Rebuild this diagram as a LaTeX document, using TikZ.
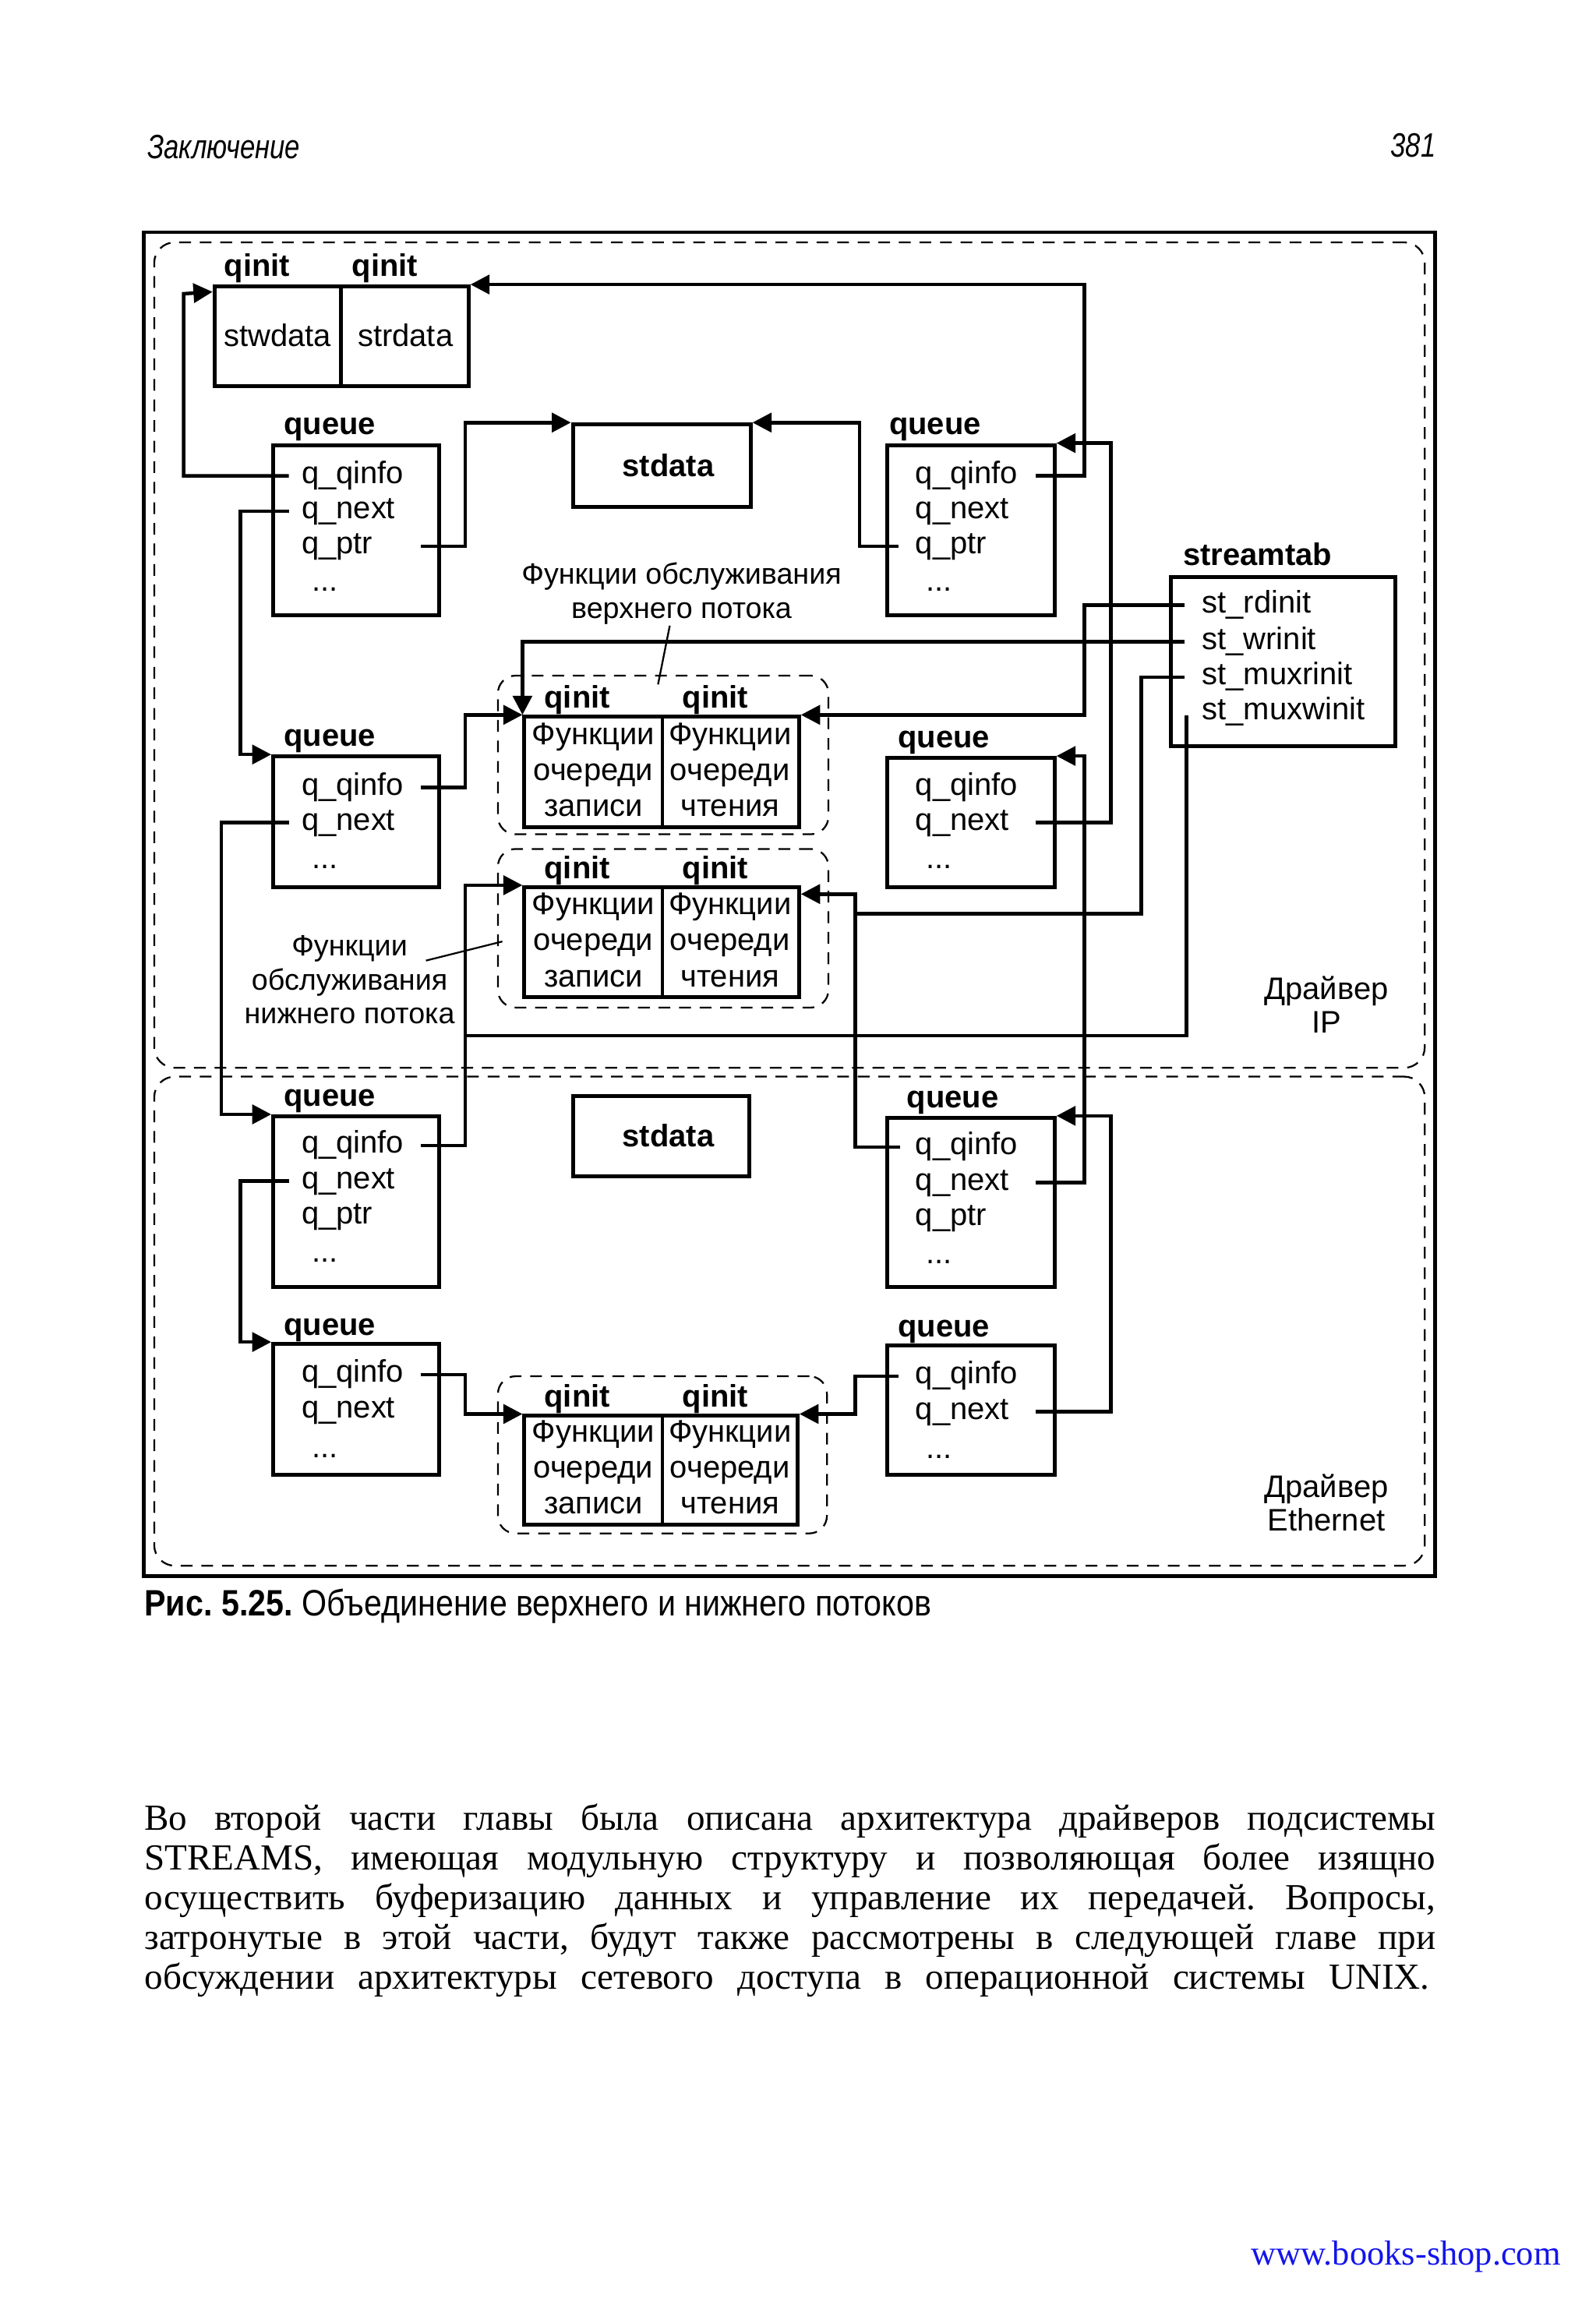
\documentclass[tikz,border=0pt]{standalone}
\usepackage{fontspec}
\setmainfont{Liberation Serif}
\newfontfamily\dsf{Liberation Sans}
\newfontfamily\nsf[FakeStretch=0.8]{Liberation Sans}
\newfontfamily\capf[FakeStretch=0.875]{Liberation Sans}
\usetikzlibrary{arrows.meta,fit,calc}
\definecolor{linkblue}{RGB}{20,20,235}
\frenchspacing
\tikzset{
  box/.style={draw, line width=1.3pt, inner sep=0pt},
  boxl/.style={line width=1.3pt},
  grp/.style={draw, line width=0.6pt, dash pattern=on 4pt off 3pt, rounded corners=6pt, inner sep=0pt},
  region/.style={draw, line width=0.6pt, dash pattern=on 4pt off 3pt, rounded corners=7pt, inner sep=0pt},
  outerframe/.style={draw, line width=1.2pt, inner sep=0pt},
  fld/.style={font=\dsf\fontsize{10.6pt}{12pt}\selectfont, inner sep=0pt, anchor=west, text height=7.6pt, text depth=2.4pt},
  txt/.style={font=\dsf\fontsize{10.6pt}{12pt}\selectfont, inner sep=0pt},
  cell/.style={font=\dsf\fontsize{10.6pt}{12.25pt}\selectfont, inner sep=0pt, align=center},
  note/.style={font=\dsf\fontsize{10pt}{11.5pt}\selectfont, inner sep=0pt, align=center},
  lbl/.style={font=\dsf\bfseries\fontsize{10.6pt}{12pt}\selectfont, inner sep=0pt},
  conn/.style={line width=1.2pt},
  arr/.style={line width=1.2pt, -{Triangle[length=6.5pt,width=6.5pt]}},
  leader/.style={line width=0.6pt},
  body/.style={font=\fontsize{12.5pt}{13.5pt}\selectfont, inner sep=0pt, anchor=base west},
}
\newcommand\fieldnode[4]{\node[fld] (#1) at (#2,#3) {#4};}
\begin{document}
\begin{tikzpicture}[x=0.5pt,y=-0.5pt]
\useasboundingbox (0,0) rectangle (1086.6,1567.3);
\fill[white] (0,0) rectangle (1086.6,1567.3);

% header
\node[anchor=base west, inner sep=0pt, font=\nsf\itshape\fontsize{11.5pt}{13pt}\selectfont] (hdrL) at (100,108) {Заключение};
\node[anchor=base east, inner sep=0pt, font=\nsf\itshape\fontsize{11.5pt}{13pt}\selectfont] (hdrR) at (978,107) {381};

% frame and regions
\node[outerframe, fit={(98,158)(977,1073)}] (frm) {};
\node[region, fit={(105,165)(970,727)}] (ipreg) {};
\node[region, fit={(105,733)(970,1066)}] (ethreg) {};

% ---------- top qinit pair
\node[box, fit={(146,195)(319,263)}] (qi) {};
\draw[boxl] (232,195) -- (232,263);
\node[lbl, anchor=base] (qiL1) at (175,188) {qinit};
\node[lbl, anchor=base] (qiL2) at (262,188) {qinit};
\node[txt] (stw) at (189,228) {stwdata};
\node[txt] (strd) at (276,228) {strdata};

% ---------- queue 1
\node[lbl, anchor=base west] (q1L) at (193,296) {queue};
\node[box, fit={(186,303)(299,419)}] (q1) {};
\fieldnode{q1a}{205}{324}{q\_qinfo}
\fieldnode{q1b}{205}{348}{q\_next}
\fieldnode{q1c}{205}{372}{q\_ptr}
\fieldnode{q1d}{212}{397}{...}

% ---------- stdata 1
\node[box, fit={(390,289)(511,345)}] (sd1) {};
\node[lbl] (sd1t) at (455,317) {stdata};

% ---------- queue 2
\node[lbl, anchor=base west] (q2L) at (605,296) {queue};
\node[box, fit={(604,303)(718,419)}] (q2) {};
\fieldnode{q2a}{623}{324}{q\_qinfo}
\fieldnode{q2b}{623}{348}{q\_next}
\fieldnode{q2c}{623}{372}{q\_ptr}
\fieldnode{q2d}{630}{397}{...}

% ---------- streamtab
\node[lbl, anchor=base west] (stL) at (805,385) {streamtab};
\node[box, fit={(797,393)(950,508)}] (st) {};
\fieldnode{st1}{818}{412}{st\_rdinit}
\fieldnode{st2}{818}{437}{st\_wrinit}
\fieldnode{st3}{818}{461}{st\_muxrinit}
\fieldnode{st4}{818}{485}{st\_muxwinit}

% ---------- upper note
\node[note] (unote) at (464,404) {Функции обслуживания\\верхнего потока};
\draw[leader] (456,426) -- (448,466);

% ---------- upper IP qinit group
\node[grp, fit={(339,460)(564,568)}] (ugd) {};
\node[box, fit={(357,488)(544,563)}] (ug) {};
\draw[boxl] (451,488) -- (451,563);
\node[lbl, anchor=base] (ugL1) at (393,482) {qinit};
\node[lbl, anchor=base] (ugL2) at (487,482) {qinit};
\node[cell] (ugw) at (404,524) {Функции\\очереди\\записи};
\node[cell] (ugr) at (497,524) {Функции\\очереди\\чтения};

% ---------- queue 3
\node[lbl, anchor=base west] (q3L) at (193,508) {queue};
\node[box, fit={(186,515)(299,604)}] (q3) {};
\fieldnode{q3a}{205}{536}{q\_qinfo}
\fieldnode{q3b}{205}{560}{q\_next}
\fieldnode{q3d}{212}{586}{...}

% ---------- queue 4
\node[lbl, anchor=base west] (q4L) at (611,509) {queue};
\node[box, fit={(604,516)(718,604)}] (q4) {};
\fieldnode{q4a}{623}{536}{q\_qinfo}
\fieldnode{q4b}{623}{560}{q\_next}
\fieldnode{q4d}{630}{586}{...}

% ---------- lower IP qinit group
\node[grp, fit={(339,578)(564,686)}] (lgd) {};
\node[box, fit={(357,604)(544,679)}] (lg) {};
\draw[boxl] (451,604) -- (451,679);
\node[lbl, anchor=base] (lgL1) at (393,598) {qinit};
\node[lbl, anchor=base] (lgL2) at (487,598) {qinit};
\node[cell] (lgw) at (404,640) {Функции\\очереди\\записи};
\node[cell] (lgr) at (497,640) {Функции\\очереди\\чтения};

% ---------- lower note
\node[note] (lnote) at (238,667) {Функции\\обслуживания\\нижнего потока};
\draw[leader] (290,654) -- (342,641);

\node[note, font=\dsf\fontsize{10.6pt}{11.5pt}\selectfont] (ipname) at (903,684) {Драйвер\\IP};

% ---------- Ethernet
\node[lbl, anchor=base west] (q5L) at (193,753) {queue};
\node[box, fit={(186,760)(299,876)}] (q5) {};
\fieldnode{q5a}{205}{780}{q\_qinfo}
\fieldnode{q5b}{205}{804}{q\_next}
\fieldnode{q5c}{205}{828}{q\_ptr}
\fieldnode{q5d}{212}{854}{...}

\node[box, fit={(390,746)(510,801)}] (sd2) {};
\node[lbl] (sd2t) at (455,773) {stdata};

\node[lbl, anchor=base west] (q6L) at (617,754) {queue};
\node[box, fit={(604,761)(718,876)}] (q6) {};
\fieldnode{q6a}{623}{781}{q\_qinfo}
\fieldnode{q6b}{623}{805}{q\_next}
\fieldnode{q6c}{623}{829}{q\_ptr}
\fieldnode{q6d}{630}{855}{...}

\node[lbl, anchor=base west] (q7L) at (193,909) {queue};
\node[box, fit={(186,915)(299,1004)}] (q7) {};
\fieldnode{q7a}{205}{936}{q\_qinfo}
\fieldnode{q7b}{205}{960}{q\_next}
\fieldnode{q7d}{212}{987}{...}

\node[lbl, anchor=base west] (q8L) at (611,910) {queue};
\node[box, fit={(604,916)(718,1004)}] (q8) {};
\fieldnode{q8a}{623}{937}{q\_qinfo}
\fieldnode{q8b}{623}{961}{q\_next}
\fieldnode{q8d}{630}{988}{...}

\node[grp, fit={(339,937)(563,1044)}] (egd) {};
\node[box, fit={(357,964)(543,1038)}] (eg) {};
\draw[boxl] (451,964) -- (451,1038);
\node[lbl, anchor=base] (egL1) at (393,958) {qinit};
\node[lbl, anchor=base] (egL2) at (487,958) {qinit};
\node[cell] (egw) at (404,999) {Функции\\очереди\\записи};
\node[cell] (egr) at (497,999) {Функции\\очереди\\чтения};

\node[note, font=\dsf\fontsize{10.6pt}{11.5pt}\selectfont] (ethname) at (903,1023) {Драйвер\\Ethernet};

% junction coordinates
\coordinate (j1) at (581,622);
\coordinate (j2) at (318,705);

% ---------- connectors
\draw[arr] ($(q1.west|-q1a)+(12,0)$) -| (125,200) -- ($(qi.north west)+(0,5)$);
\draw[arr] ($(q1.west|-q1b)+(12,0)$) -| ($(q3.north west)+(-21,0)$) -- (q3.north west);
\draw[arr] ($(q1.east|-q1c)+(-14,0)$) -| ($(sd1.north west)+(-72,0)$) -- (sd1.north west);
\draw[arr] ($(q2.east|-q2a)+(-14,0)$) -| ($(qi.north east)+(418,0)$) -- (qi.north east);
\draw[arr] ($(q2.west|-q2c)+(9,0)$) -| ($(sd1.north east)+(73,0)$) -- (sd1.north east);
\draw[arr] ($(q4.east|-q4b)+(-14,0)$) -| ($(q2.north east)+(37,0)$) -- (q2.north east);
\draw[arr] ($(st.west|-st1)+(11,0)$) -| ($(ug.north east)+(193,0)$) -- (ug.north east);
\draw[arr] ($(st.west|-st2)+(11,0)$) -| (ug.north west);
\draw[arr] ($(q3.east|-q3a)+(-14,0)$) -| ($(ug.north west)+(-39,0)$) -- (ug.north west);
\draw[conn] ($(st.west|-st3)+(11,0)$) -| (777,622) -- (j1);
\draw[arr] ($(q6.west|-q6a)+(10,0)$) -| ($(lg.north east)+(37,6)$) -- ($(lg.north east)+(0,6)$);
\draw[conn] ($(st.west|-st4)+(12,2)$) |- (j2);
\draw[arr] ($(q5.east|-q5a)+(-14,0)$) -| ($(lg.north west)+(-39,0)$) -- (lg.north west);
\draw[arr] ($(q3.west|-q3b)+(12,0)$) -| ($(q5.north west)+(-34,0)$) -- (q5.north west);
\draw[arr] ($(q6.east|-q6b)+(-14,0)$) -| ($(q4.north east)+(19,0)$) -- (q4.north east);
\draw[arr] ($(q5.west|-q5b)+(12,0)$) -| ($(q7.north west)+(-21,0)$) -- (q7.north west);
\draw[arr] ($(q7.east|-q7a)+(-14,0)$) -| ($(eg.north west)+(-39,0)$) -- (eg.north west);
\draw[arr] ($(q8.west|-q8a)+(9,0)$) -| ($(eg.north east)+(38,0)$) -- (eg.north east);
\draw[arr] ($(q8.east|-q8b)+(-14,0)$) -| ($(q6.north east)+(37,0)$) -- (q6.north east);

% ---------- caption
\node[anchor=base west, inner sep=0pt, font=\capf\fontsize{12.5pt}{14pt}\selectfont] (cap) at (98,1100) {\textbf{Рис. 5.25.} Объединение верхнего и нижнего потоков};

% ---------- body text
\node[body] (b1) at (98,1246) {\makebox[439.5pt][s]{Во второй части главы была описана архитектура драйверов подсистемы}};
\node[body] (b2) at (98,1273) {\makebox[439.5pt][s]{STREAMS, имеющая модульную структуру и позволяющая более изящно}};
\node[body] (b3) at (98,1300) {\makebox[439.5pt][s]{осуществить буферизацию данных и управление их передачей. Вопросы,}};
\node[body] (b4) at (98,1327) {\makebox[439.5pt][s]{затронутые в этой части, будут также рассмотрены в следующей главе при}};
\node[body] (b5) at (98,1354) {\makebox[437.5pt][s]{обсуждении архитектуры сетевого доступа в операционной системы UNIX.}};

% ---------- footer
\node[anchor=base east, inner sep=0pt, text=linkblue, font=\fontsize{11.8pt}{14pt}\selectfont] (foot) at (1063,1542) {www.books-shop.com};
\end{tikzpicture}
\end{document}
